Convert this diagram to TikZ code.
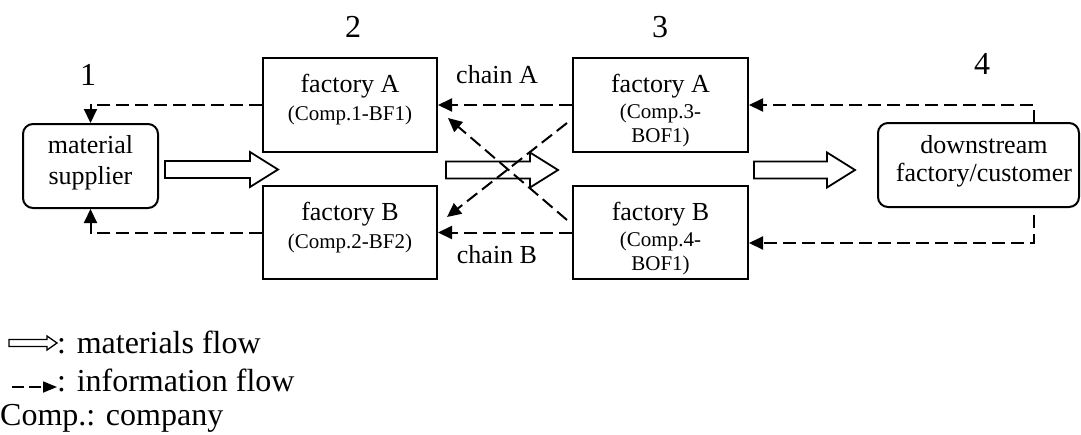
\documentclass[tikz,border=0pt]{standalone}
\usepackage{fontspec}
\setmainfont{Liberation Serif}
\usetikzlibrary{arrows.meta,calc}
\newcommand\bigf{\fontsize{26}{30}\selectfont}
\newcommand\smallf{\fontsize{21}{25}\selectfont}
\newcommand\legf{\fontsize{32}{36}\selectfont}
\tikzset{
  box/.style={draw, line width=2pt, inner sep=0pt},
  rbox/.style={box, rounded corners=10pt},
  info/.style={line width=2pt, dash pattern=on 13pt off 6pt, -{Triangle[length=14pt,width=13pt]}},
  txt/.style={anchor=base, inner sep=0pt, font=\bigf},
  stxt/.style={anchor=base, inner sep=0pt, font=\smallf},
  numtxt/.style={anchor=base, inner sep=0pt, font=\legf},
  block/.style={draw, line width=1.8pt, fill=white, line join=miter}
}
\newcommand\blockarrow[3]{% x1, x2, yc
  \draw[block] (#1,#3-8.5) -- (#2-28,#3-8.5) -- (#2-28,#3-17.5) -- (#2,#3)
    -- (#2-28,#3+17.5) -- (#2-28,#3+8.5) -- (#1,#3+8.5) -- cycle;}
\begin{document}
\begin{tikzpicture}[x=1pt,y=-1pt]
\useasboundingbox (0,0) rectangle (1081,434);

% boxes
\node[rbox, minimum width=135pt, minimum height=84pt] (sup) at (90.5,166) {};
\node[box, minimum width=174pt, minimum height=94pt] (fA2) at (350,105) {};
\node[box, minimum width=174pt, minimum height=93pt] (fB2) at (350,232.5) {};
\node[box, minimum width=175pt, minimum height=94pt] (fA3) at (660.5,105) {};
\node[box, minimum width=175pt, minimum height=93pt] (fB3) at (660.5,232.5) {};
\node[rbox, minimum width=201pt, minimum height=84pt] (down) at (978.5,165) {};

% box texts
\node[txt] (supt1) at (90.5,153) {material};
\node[txt] (supt2) at (90.5,184) {supplier};
\node[txt] (fA2t1) at (350,92) {factory A};
\node[stxt] (fA2t2) at (350,120) {(Comp.1-BF1)};
\node[txt] (fB2t1) at (350,220) {factory B};
\node[stxt] (fB2t2) at (350,248) {(Comp.2-BF2)};
\node[txt] (fA3t1) at (660.5,92) {factory A};
\node[stxt] (fA3t2) at (660.5,118) {(Comp.3-};
\node[stxt] (fA3t3) at (660.5,142) {BOF1)};
\node[txt] (fB3t1) at (660.5,220) {factory B};
\node[stxt] (fB3t2) at (660.5,246) {(Comp.4-};
\node[stxt] (fB3t3) at (660.5,270) {BOF1)};
\node[txt] (dt1) at (984,153) {downstream};
\node[txt] (dt2) at (984,181) {factory/customer};

% stage numbers and chain labels
\node[numtxt] (n1) at (88,85) {1};
\node[numtxt] (n2) at (353,37) {2};
\node[numtxt] (n3) at (660,37) {3};
\node[numtxt] (n4) at (982,74) {4};
\node[txt] (chA) at (497,83) {chain A};
\node[txt] (chB) at (497,263) {chain B};

% material flow arrows
\blockarrow{165}{278}{169.5}
\blockarrow{446}{558}{170}
\blockarrow{754}{855}{170}

% information flows
\draw[info] (fA2.west) -| (sup.north);
\draw[info] (fB2.west) -| (sup.south);
\draw[info] (fA3.west) -- (fA2.east);
\draw[info] (fB3.west) -- (fB2.east);
\coordinate (d1s) at (567,123);
\coordinate (d1e) at (447,217);
\coordinate (d2s) at (567,220);
\coordinate (d2e) at (448,118);
\draw[info] (d1s) -- (d1e);
\draw[info] (d2s) -- (d2e);
\coordinate (dtop) at (1034,123);
\coordinate (dbot) at (1034,215);
\coordinate (fB3in) at ($(fB3.east)+(0,10.5)$);
\draw[info] (dtop) |- (fA3.east);
\draw[info] (dbot) |- (fB3in);

% legend
\draw[block, line width=1.3pt] (9,339.5) -- (47,339.5) -- (47,336) -- (57,343) -- (47,350) -- (47,346.5) -- (9,346.5) -- cycle;
\node[anchor=base west, inner sep=0pt, font=\legf] (leg1) at (57,353) {: materials flow};
\coordinate (l2s) at (12,387);
\coordinate (l2e) at (57,387);
\draw[line width=1.8pt, dash pattern=on 12pt off 5pt, -{Triangle[length=14pt,width=11pt]}] (l2s) -- (l2e);
\node[anchor=base west, inner sep=0pt, font=\legf] (leg2) at (57,391) {: information flow};
\node[anchor=base west, inner sep=0pt, font=\legf] (leg3) at (0,425) {Comp.: company};
\end{tikzpicture}
\end{document}
